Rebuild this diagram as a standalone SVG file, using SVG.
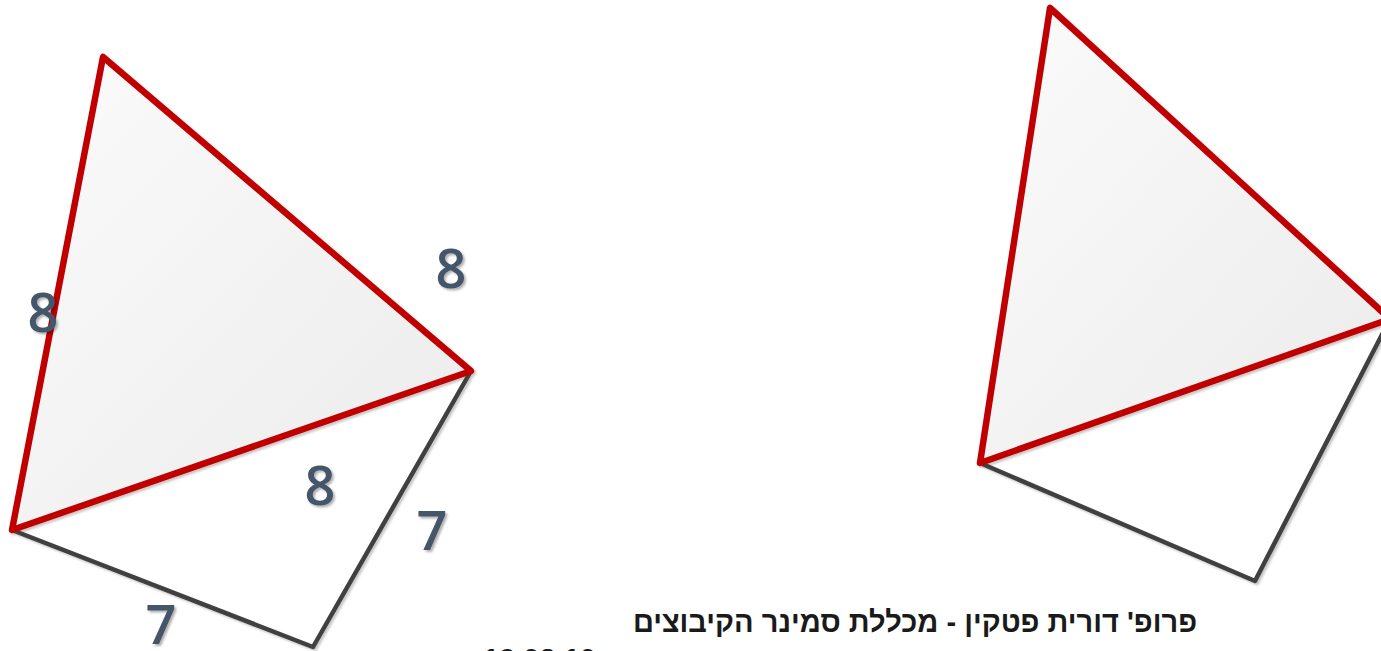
<svg xmlns="http://www.w3.org/2000/svg" width="1381" height="651" viewBox="0 0 1381 651">
<style>
.red{stroke:#c00000;stroke-width:6.5;stroke-linejoin:round;stroke-linecap:round}
.gray{fill:none;stroke:#404040;stroke-width:4.5;stroke-linecap:round;stroke-linejoin:round}
.lbl{font-family:"Open Sans","Noto Sans",sans-serif;font-size:54px;font-weight:600;fill:#44546a;text-anchor:middle}
.heb{font-family:"Liberation Sans","DejaVu Sans",sans-serif;font-weight:bold;font-size:29px;fill:#1a1a1a;text-anchor:middle}
</style>
<defs>
<linearGradient id="fillg" x1="0" y1="0" x2="1" y2="1">
<stop offset="0" stop-color="#fbfbfb"/>
<stop offset="1" stop-color="#ebebeb"/>
</linearGradient>
<filter id="sh" x="-10%" y="-10%" width="130%" height="130%">
<feDropShadow dx="2" dy="2" stdDeviation="1.2" flood-color="#000" flood-opacity="0.22"/>
</filter>
<filter id="tsh" x="-20%" y="-20%" width="150%" height="150%">
<feDropShadow dx="2" dy="2" stdDeviation="1.2" flood-color="#000" flood-opacity="0.3"/>
</filter>
</defs>
<rect width="1381" height="651" fill="#fff"/>
<g id="figure-left" filter="url(#sh)">
<polyline class="gray" points="12,530 313,647 471,371"/>
<polygon class="red" points="103,57 12,530 471,371" fill="url(#fillg)"/>
</g>
<g id="figure-right" filter="url(#sh)">
<polyline class="gray" points="980,463 1255,581 1390,319"/>
<polygon class="red" points="1050,8 980,463 1390,319" fill="url(#fillg)"/>
</g>
<g id="labels" filter="url(#tsh)">
<text class="lbl" x="43" y="332">8</text>
<text class="lbl" x="451" y="288">8</text>
<text class="lbl" x="320" y="505">8</text>
<text class="lbl" x="432" y="550">7</text>
<text class="lbl" x="161" y="644">7</text>
</g>
<g id="footer">
<text class="heb" x="915" y="632" direction="rtl">פרופ' דורית פטקין - מכללת סמינר הקיבוצים</text>
<text class="heb" x="483" y="669" style="text-anchor:start">19.02.10</text>
</g>
</svg>
